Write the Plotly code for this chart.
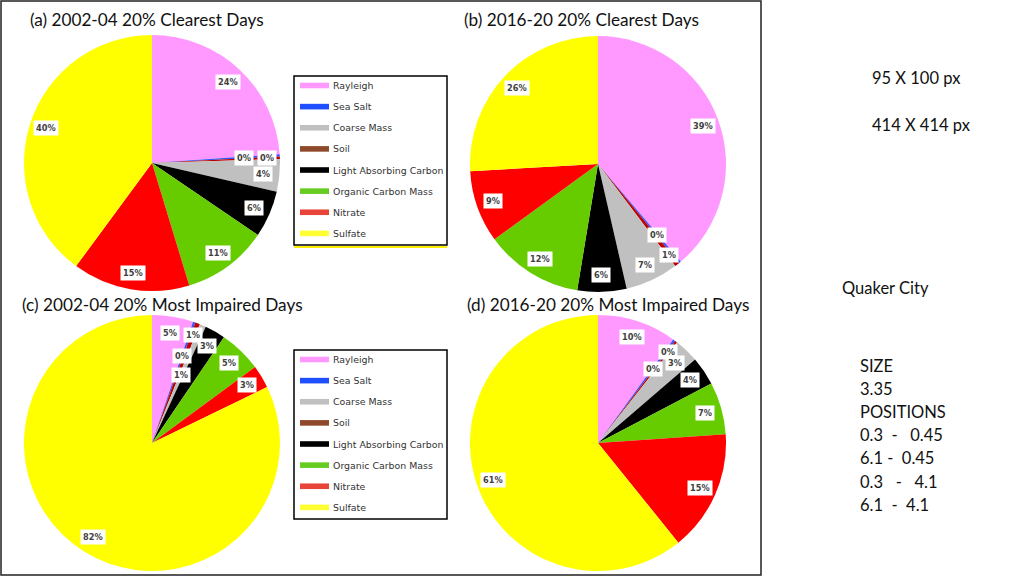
import math
import plotly.graph_objects as go

# ---------------- data ----------------
categories = ["Rayleigh", "Sea Salt", "Soil", "Coarse Mass",
              "Light Absorbing Carbon", "Organic Carbon Mass", "Nitrate", "Sulfate"]
legend_order = ["Rayleigh", "Sea Salt", "Coarse Mass", "Soil",
                "Light Absorbing Carbon", "Organic Carbon Mass", "Nitrate", "Sulfate"]

titles = ["(a) 2002-04 20% Clearest Days", "(b) 2016-20 20% Clearest Days",
          "(c) 2002-04 20% Most Impaired Days", "(d) 2016-20 20% Most Impaired Days"]

values_a = [23.9, 0.3, 0.3, 4.1, 5.9, 10.8, 14.8, 39.9]
values_b = [38.8, 0.3, 0.6, 6.7, 6.2, 12.4, 9.1, 25.9]
values_c = [5.2, 0.3, 0.6, 0.8, 2.6, 5.4, 2.9, 82.2]
values_d = [10.0, 0.3, 0.3, 3.1, 3.6, 6.6, 15.3, 60.8]

side_texts = ["95 X 100 px", "414 X 414 px", "Quaker City"]
side_block = ["SIZE", "3.35", "POSITIONS", "0.3  -   0.45", "6.1 -  0.45",
              "0.3   -   4.1", "6.1  -  4.1"]

# ---------------- styles ----------------
pie_colors = {"Rayleigh": "#FF99FF", "Sea Salt": "#3355FF", "Soil": "#C00000",
              "Coarse Mass": "#C0C0C0", "Light Absorbing Carbon": "#000000",
              "Organic Carbon Mass": "#66CC00", "Nitrate": "#FF0000", "Sulfate": "#FFFF00"}
legend_colors = {"Rayleigh": "#FF99FF", "Sea Salt": "#1F4FFF", "Coarse Mass": "#C0C0C0",
                 "Soil": "#8E4A2A", "Light Absorbing Carbon": "#000000",
                 "Organic Carbon Mass": "#66CC22", "Nitrate": "#E8443A", "Sulfate": "#FFFF33"}

W, H = 1024, 576
R = 128
centers = [(152, 163), (598, 164), (152, 443), (598, 443)]
title_pos = [(28, 19), (462, 19), (20, 304), (465, 304)]
legend_boxes = [(294, 76, 447, 245), (294, 350, 447, 519)]

def px(x):
    return x / W

def py(y):
    return 1 - y / H

fig = go.Figure()
annotations = []
shapes = []

all_values = [values_a, values_b, values_c, values_d]
for vals, (cx, cy) in zip(all_values, centers):
    fig.add_trace(go.Pie(
        labels=categories, values=vals, sort=False, direction="clockwise",
        rotation=0, textinfo="none", hoverinfo="label+percent",
        marker=dict(colors=[pie_colors[c] for c in categories], line=dict(width=0)),
        domain=dict(x=[px(cx - R), px(cx + R)], y=[py(cy + R), py(cy - R)]),
        showlegend=False,
    ))
    # data labels (white boxes) positioned from the slice mid-angles
    total = sum(vals)
    cum = 0.0
    small_idx = 0
    small_radii = [0.72, 0.90, 0.58]
    for v in vals:
        mid = (cum + v / 2) / total * 2 * math.pi
        cum += v
        pct = v / total * 100
        if pct < 2:
            frac = small_radii[small_idx % 3]
            small_idx += 1
        else:
            frac = 0.87
        lx = cx + frac * R * math.sin(mid)
        ly = cy - frac * R * math.cos(mid)
        annotations.append(dict(
            x=px(lx), y=py(ly), xref="paper", yref="paper", showarrow=False,
            xanchor="center", yanchor="middle",
            text="<b>%d%%</b>" % int(round(pct)),
            font=dict(family="DejaVu Sans", size=8.2, color="#404040"),
            bgcolor="white", borderpad=2,
        ))

# titles
for t, (tx, ty) in zip(titles, title_pos):
    annotations.append(dict(x=px(tx), y=py(ty), xref="paper", yref="paper",
                            xanchor="left", yanchor="middle", showarrow=False, text=t,
                            font=dict(family="Lato", size=17.2, color="#111111")))

# legends
for (x0, y0, x1, y1) in legend_boxes:
    shapes.append(dict(type="rect", xref="paper", yref="paper",
                       x0=px(x0), x1=px(x1), y0=py(y1), y1=py(y0),
                       line=dict(color="black", width=1.5), fillcolor="white", layer="below"))
    step = (y1 - y0) / len(legend_order)
    for i, name in enumerate(legend_order):
        ry = y0 + step * (i + 0.45)
        shapes.append(dict(type="rect", xref="paper", yref="paper",
                           x0=px(x0 + 6), x1=px(x0 + 35), y0=py(ry + 2.8), y1=py(ry - 2.8),
                           line=dict(width=0), fillcolor=legend_colors[name]))
        annotations.append(dict(x=px(x0 + 37), y=py(ry), xref="paper", yref="paper",
                                xanchor="left", yanchor="middle", showarrow=False, text=name,
                                font=dict(family="DejaVu Sans", size=9.4, color="#333333")))
# yellow underline under the first legend
shapes.append(dict(type="line", xref="paper", yref="paper",
                   x0=px(294), x1=px(447), y0=py(247), y1=py(247),
                   line=dict(color="#FFEE00", width=2)))

# outer frame
shapes.append(dict(type="rect", xref="paper", yref="paper",
                   x0=px(1), x1=px(761), y0=py(575), y1=py(1),
                   line=dict(color="#222222", width=1.5), layer="above"))

# right side texts
side_font = dict(family="Lato", size=16.5, color="#111111")
annotations.append(dict(x=px(870), y=py(78), xref="paper", yref="paper", xanchor="left",
                        yanchor="middle", showarrow=False, text=side_texts[0], font=side_font))
annotations.append(dict(x=px(870), y=py(125), xref="paper", yref="paper", xanchor="left",
                        yanchor="middle", showarrow=False, text=side_texts[1], font=side_font))
annotations.append(dict(x=px(840), y=py(288), xref="paper", yref="paper", xanchor="left",
                        yanchor="middle", showarrow=False, text=side_texts[2], font=side_font))
for i, line in enumerate(side_block):
    annotations.append(dict(x=px(858), y=py(366 + i * 23.1), xref="paper", yref="paper",
                            xanchor="left", yanchor="middle", showarrow=False,
                            text=line.replace(" ", "&nbsp;"), font=side_font))

fig.update_layout(
    width=W, height=H, margin=dict(l=0, r=0, t=0, b=0),
    paper_bgcolor="white", plot_bgcolor="white",
    annotations=annotations, shapes=shapes,
)

fig.write_html("out.html", config={"displayModeBar": False},
               post_script="document.body.style.margin='0';document.body.style.overflow='hidden';")
